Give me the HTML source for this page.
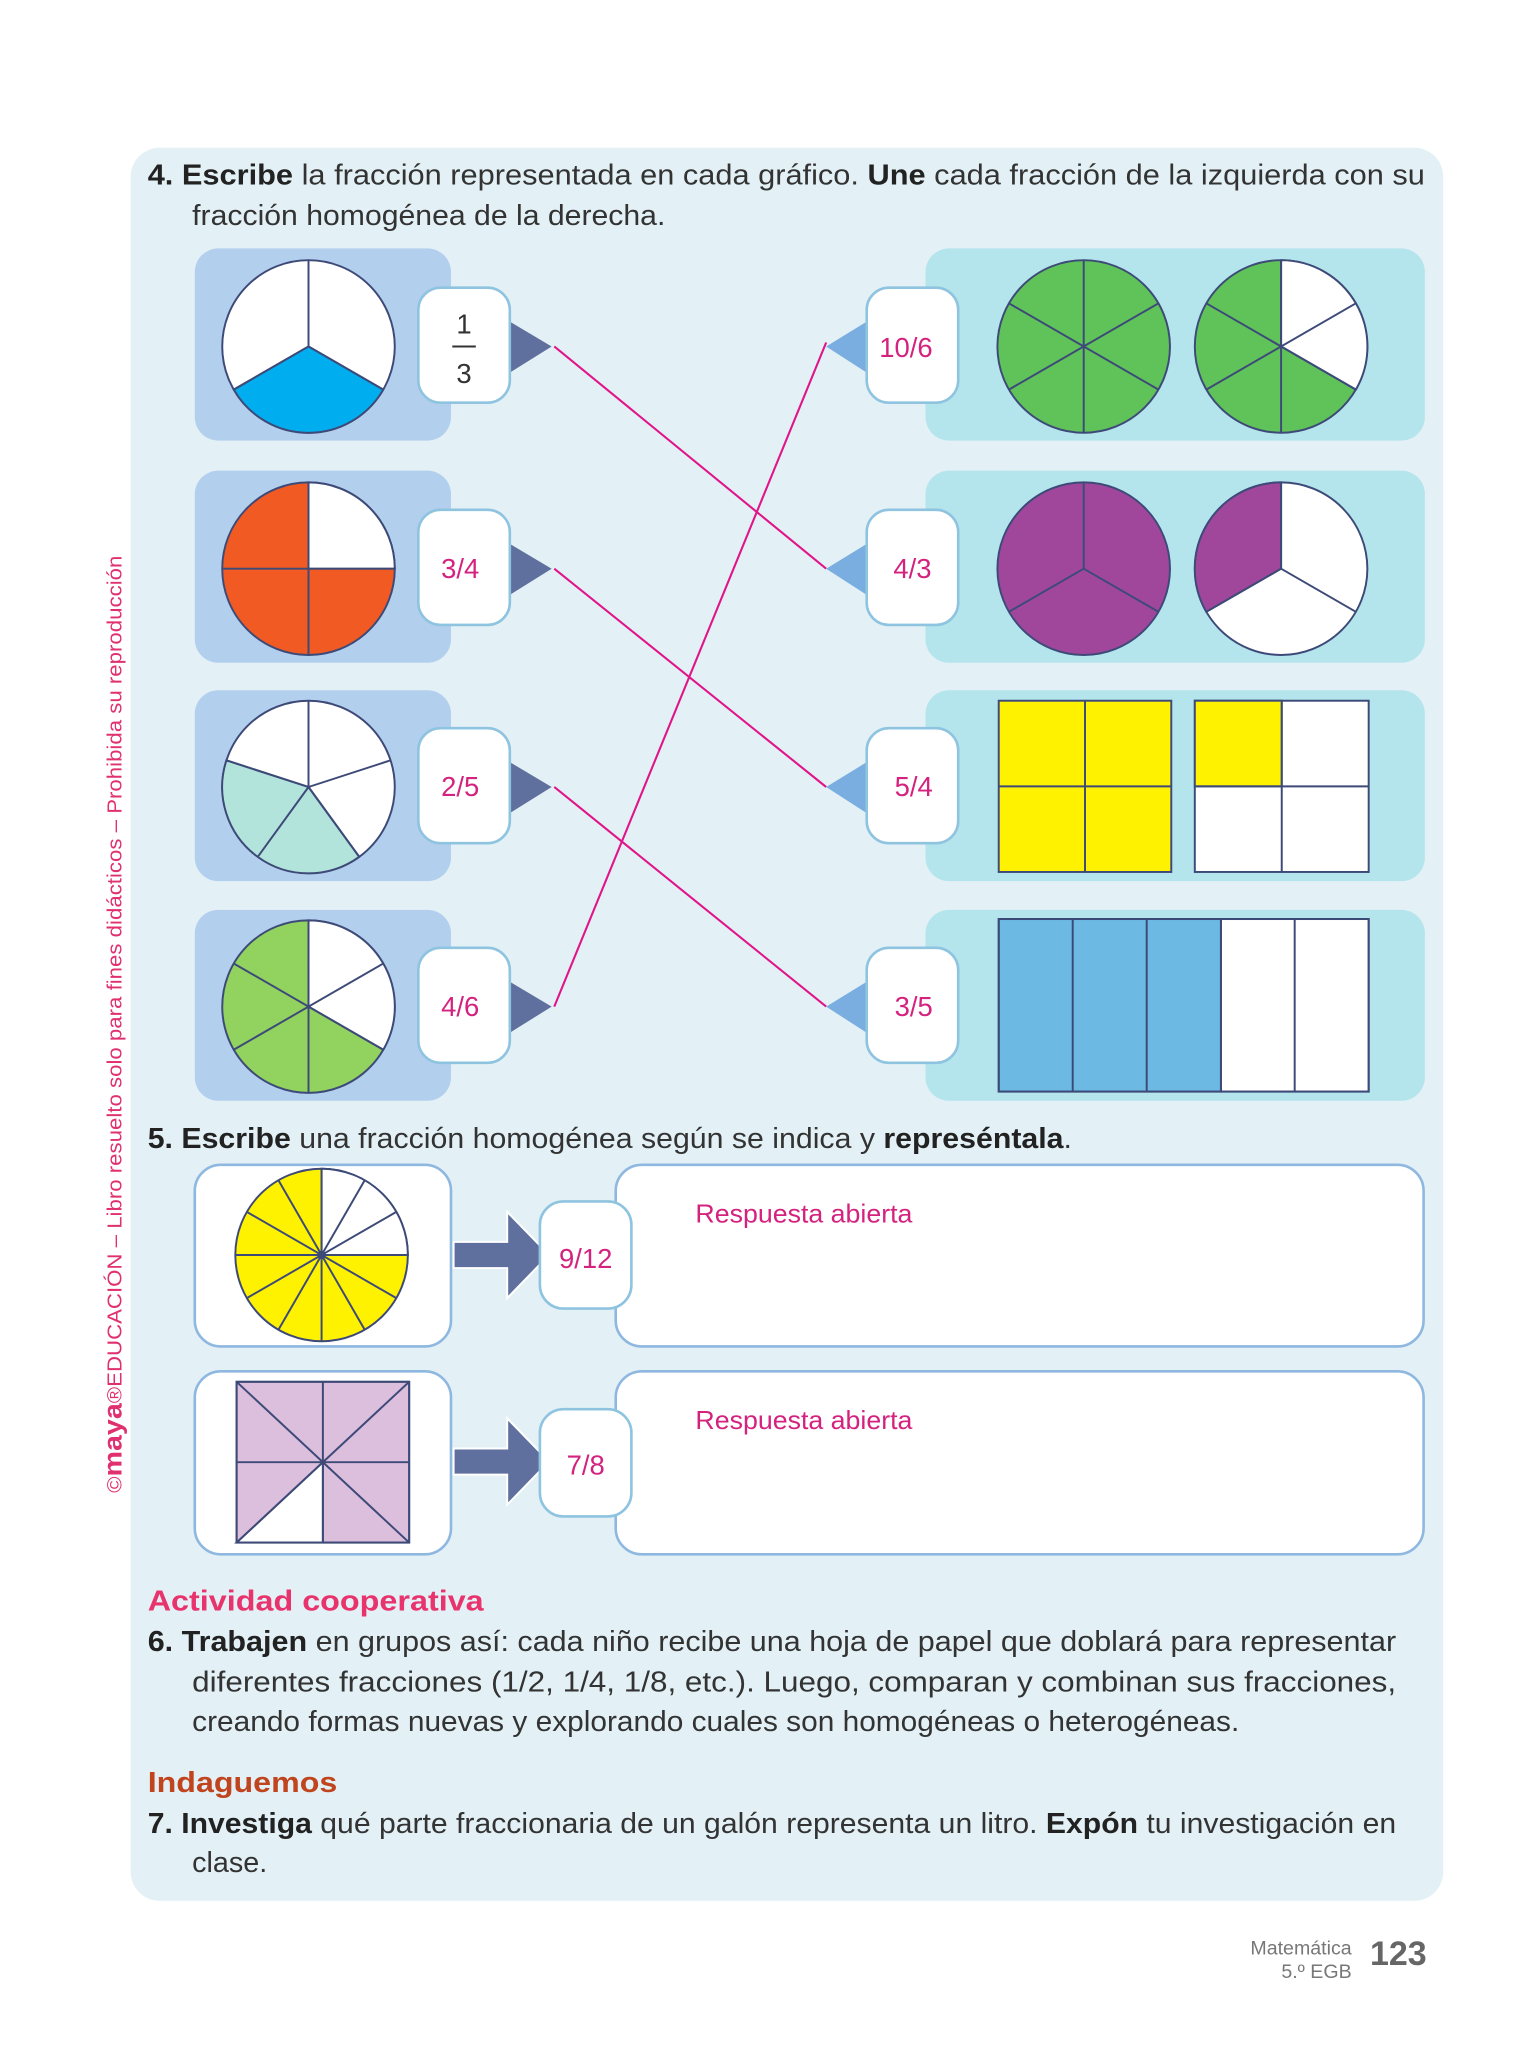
<!DOCTYPE html>
<html><head><meta charset="utf-8"><style>
html,body{margin:0;padding:0;background:#fff;}
svg{display:block;}
text{font-family:"Liberation Sans",sans-serif;}
</style></head><body>
<svg width="1536" height="2048" viewBox="0 0 1175 1566.6" xmlns="http://www.w3.org/2000/svg">
<rect x="0" y="0" width="1175" height="1567" fill="#fff"/>
<rect x="100" y="113" width="1004" height="1341" rx="22" fill="#e3f1f6"/>

<g font-size="22" fill="#333">
<text x="113" y="141" textLength="977" lengthAdjust="spacingAndGlyphs"><tspan font-weight="bold" fill="#222">4.  Escribe</tspan> la fracción representada en cada gráfico. <tspan font-weight="bold" fill="#222">Une</tspan> cada fracción de la izquierda con su</text>
<text x="147" y="172" textLength="362" lengthAdjust="spacingAndGlyphs">fracción homogénea de la derecha.</text>
</g>

<g fill="#b3cfee">
<rect x="149" y="190" width="196" height="147" rx="18"/>
<rect x="149" y="360" width="196" height="147" rx="18"/>
<rect x="149" y="528" width="196" height="146" rx="18"/>
<rect x="149" y="696" width="196" height="146" rx="18"/>
</g>
<g fill="#b4e4ec">
<rect x="708" y="190" width="382" height="147" rx="18"/>
<rect x="708" y="360" width="382" height="147" rx="18"/>
<rect x="708" y="528" width="382" height="146" rx="18"/>
<rect x="708" y="696" width="382" height="146" rx="18"/>
</g>

<g stroke="#3d4a78" stroke-width="1.5">
<circle cx="236" cy="265" r="66" fill="#fff"/>
<path d="M236,265 L293.2,298 A66,66 0 0 1 178.8,298 Z" fill="#00aeef"/>
<path d="M236,199 L236,265 M236,265 L293.2,298 M236,265 L178.8,298" fill="none"/>
<circle cx="236" cy="435" r="66" fill="#f15a22"/>
<path d="M236,435 L236,369 A66,66 0 0 1 302,435 Z" fill="#fff"/>
<path d="M236,369 L236,501 M170,435 L302,435" fill="none"/>
<circle cx="236" cy="602" r="66" fill="#fff"/>
<path d="M236,602 L274.8,655.4 A66,66 0 0 1 173.2,581.6 Z" fill="#b2e4dc"/>
<path d="M236,602 L236,536 M236,602 L298.8,581.6 M236,602 L274.8,655.4 M236,602 L197.2,655.4 M236,602 L173.2,581.6" fill="none"/>
<circle cx="236" cy="770" r="66" fill="#92d35f"/>
<path d="M236,770 L236,704 A66,66 0 0 1 293.2,803 Z" fill="#fff"/>
<path d="M236,704 L236,836 M178.8,737 L293.2,803 M178.8,803 L293.2,737" fill="none"/>

<circle cx="829" cy="265" r="66" fill="#5fc35a"/>
<path d="M829,199 L829,331 M771.8,232 L886.2,298 M771.8,298 L886.2,232" fill="none"/>
<circle cx="980" cy="265" r="66" fill="#5fc35a"/>
<path d="M980,265 L980,199 A66,66 0 0 1 1037.2,298 Z" fill="#fff"/>
<path d="M980,199 L980,331 M922.8,232 L1037.2,298 M922.8,298 L1037.2,232" fill="none"/>
<circle cx="829" cy="435" r="66" fill="#a0479c"/>
<path d="M829,369 L829,435 M829,435 L886.2,468 M829,435 L771.8,468" fill="none"/>
<circle cx="980" cy="435" r="66" fill="#fff"/>
<path d="M980,435 L922.8,468 A66,66 0 0 1 980,369 Z" fill="#a0479c"/>
<path d="M980,369 L980,435 M980,435 L1037.2,468 M980,435 L922.8,468" fill="none"/>
<rect x="764" y="536" width="132" height="131" fill="#fff200"/>
<path d="M830,536 L830,667 M764,601.5 L896,601.5" fill="none"/>
<rect x="914" y="536" width="133" height="131" fill="#fff"/>
<rect x="914" y="536" width="66.5" height="65.5" fill="#fff200"/>
<path d="M980.5,536 L980.5,667 M914,601.5 L1047,601.5" fill="none"/>
<rect x="764" y="703" width="170" height="132" fill="#6cb9e3"/>
<rect x="934" y="703" width="113" height="132" fill="#fff"/>
<path d="M820.6,703 L820.6,835 M877.2,703 L877.2,835 M934,703 L934,835 M990.4,703 L990.4,835" fill="none"/>
<rect x="764" y="703" width="283" height="132" fill="none"/>
</g>

<g fill="#5f6f9e">
<polygon points="390,246 422,265 390,285"/>
<polygon points="390,416 422,435 390,455"/>
<polygon points="390,583 422,602 390,622"/>
<polygon points="390,751 422,770 390,790"/>
</g>
<g fill="#7aaee0">
<polygon points="663,246 632,265 663,285"/>
<polygon points="663,416 632,435 663,455"/>
<polygon points="663,583 632,602 663,622"/>
<polygon points="663,751 632,770 663,790"/>
</g>
<g fill="#fff" stroke="#8fc4e0" stroke-width="2">
<rect x="320" y="220" width="70" height="88" rx="17"/>
<rect x="320" y="390" width="70" height="88" rx="17"/>
<rect x="320" y="557" width="70" height="88" rx="17"/>
<rect x="320" y="725" width="70" height="88" rx="17"/>
<rect x="663" y="220" width="70" height="88" rx="17"/>
<rect x="663" y="390" width="70" height="88" rx="17"/>
<rect x="663" y="557" width="70" height="88" rx="17"/>
<rect x="663" y="725" width="70" height="88" rx="17"/>
</g>
<g font-size="21" text-anchor="middle">
<text x="355" y="255" fill="#333">1</text>
<line x1="346" y1="265" x2="364" y2="265" stroke="#333" stroke-width="1.5"/>
<text x="355" y="293" fill="#333">3</text>
<g fill="#d4237f">
<text x="352" y="442">3/4</text>
<text x="352" y="609">2/5</text>
<text x="352" y="777">4/6</text>
<text x="693" y="273">10/6</text>
<text x="698" y="442">4/3</text>
<text x="699" y="609">5/4</text>
<text x="699" y="777">3/5</text>
</g>
</g>

<g stroke="#e0158a" stroke-width="1.6" fill="none">
<path d="M424,265 L632,435"/>
<path d="M424,435 L632,602"/>
<path d="M424,602 L632,770"/>
<path d="M424,770 L632,262"/>
</g>

<text x="113" y="878" font-size="22" fill="#333" textLength="707" lengthAdjust="spacingAndGlyphs"><tspan font-weight="bold" fill="#222">5.  Escribe</tspan> una fracción homogénea según se indica y <tspan font-weight="bold" fill="#222">represéntala</tspan>.</text>
<g fill="#fff" stroke="#8fb8e0" stroke-width="2">
<rect x="149" y="891" width="196" height="139" rx="20"/>
<rect x="471" y="891" width="618" height="139" rx="20"/>
<rect x="149" y="1049" width="196" height="140" rx="20"/>
<rect x="471" y="1049" width="618" height="140" rx="20"/>
</g>
<g fill="#5f6f9e" stroke="#fff" stroke-width="1.5">
<polygon points="347,950 388,950 388,927 420,960 388,993 388,970 347,970"/>
<polygon points="347,1108 388,1108 388,1085 420,1118 388,1151 388,1128 347,1128"/>
</g>
<g fill="#fff" stroke="#8fc4e0" stroke-width="2">
<rect x="413" y="919" width="70" height="82" rx="18"/>
<rect x="413" y="1078" width="70" height="82" rx="18"/>
</g>
<g font-size="21" fill="#d4237f" text-anchor="middle">
<text x="448" y="970">9/12</text>
<text x="448" y="1128">7/8</text>
</g>
<g font-size="20" fill="#d4237f">
<text x="532" y="935" textLength="166" lengthAdjust="spacingAndGlyphs">Respuesta abierta</text>
<text x="532" y="1093" textLength="166" lengthAdjust="spacingAndGlyphs">Respuesta abierta</text>
</g>
<g stroke="#3d4a78" stroke-width="1.5">
<circle cx="246" cy="960" r="66" fill="#fff200"/>
<path d="M246,960 L246,894 A66,66 0 0 1 312,960 Z" fill="#fff"/>
<path d="M180,960 L312,960 M246,894 L246,1026 M303.2,993 L188.8,927 M279,1017.2 L213,902.8 M213,1017.2 L279,902.8 M188.8,993 L303.2,927" fill="none"/>
<circle cx="246" cy="960" r="2.5" fill="#3d4a78"/>
<rect x="181" y="1057" width="132" height="123" fill="#dcbedd"/>
<polygon points="247,1118.5 181,1180 247,1180" fill="#fff"/>
<path d="M247,1057 L247,1180 M181,1118.5 L313,1118.5 M181,1057 L313,1180 M313,1057 L181,1180" fill="none"/>
<rect x="181" y="1057" width="132" height="123" fill="none"/>
</g>

<text x="113" y="1232" font-size="22" font-weight="bold" fill="#e8336d" textLength="257" lengthAdjust="spacingAndGlyphs">Actividad cooperativa</text>
<g font-size="22" fill="#333">
<text x="113" y="1263" textLength="955" lengthAdjust="spacingAndGlyphs"><tspan font-weight="bold" fill="#222">6.  Trabajen</tspan> en grupos así: cada niño recibe una hoja de papel que doblará para representar</text>
<text x="147" y="1294" textLength="921" lengthAdjust="spacingAndGlyphs">diferentes fracciones (1/2, 1/4, 1/8, etc.). Luego, comparan y combinan sus fracciones,</text>
<text x="147" y="1324" textLength="801" lengthAdjust="spacingAndGlyphs">creando formas nuevas y explorando cuales son homogéneas o heterogéneas.</text>
</g>
<text x="113" y="1371" font-size="22" font-weight="bold" fill="#c0441d" textLength="145" lengthAdjust="spacingAndGlyphs">Indaguemos</text>
<g font-size="22" fill="#333">
<text x="113" y="1402" textLength="955" lengthAdjust="spacingAndGlyphs"><tspan font-weight="bold" fill="#222">7.  Investiga</tspan> qué parte fraccionaria de un galón representa un litro. <tspan font-weight="bold" fill="#222">Expón</tspan> tu investigación en</text>
<text x="147" y="1432">clase.</text>
</g>

<g fill="#777" font-size="15" text-anchor="end">
<text x="1034" y="1495">Matemática</text>
<text x="1034" y="1513">5.º EGB</text>
</g>
<text x="1048" y="1503" font-size="26" font-weight="bold" fill="#666">123</text>

<text transform="translate(93,1142) rotate(-90)" font-size="15.5" fill="#e0306f" textLength="717" lengthAdjust="spacingAndGlyphs">©<tspan font-weight="bold" font-size="20">maya</tspan>®EDUCACIÓN – Libro resuelto solo para fines didácticos – Prohibida su reproducción</text>
</svg>
</body></html>
